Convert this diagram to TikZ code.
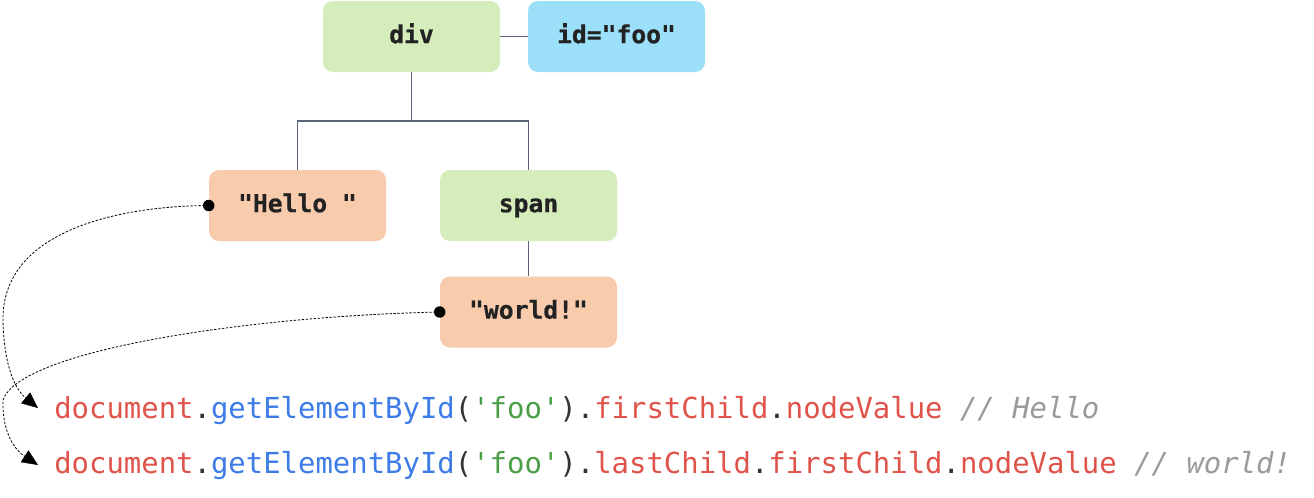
\documentclass[tikz,border=0pt]{standalone}
\usepackage{fontspec}
\setmonofont{DejaVu Sans Mono}
\newfontfamily\labelfont{DejaVu Sans Mono Bold}[FakeBold=0.6]
\usetikzlibrary{arrows.meta}
\definecolor{elemfill}{HTML}{D4EDBB}
\definecolor{attrfill}{HTML}{9CDFF9}
\definecolor{textfill}{HTML}{F8CBAD}
\definecolor{treeline}{HTML}{5B6478}
\definecolor{labelink}{HTML}{222222}
\definecolor{jsred}{HTML}{E0534A}
\definecolor{jsblue}{HTML}{3D7CE8}
\definecolor{jsgreen}{HTML}{4A9E45}
\definecolor{jspunct}{HTML}{333333}
\definecolor{jscomment}{HTML}{9A9A9A}
\tikzset{
  domnode/.style={rounded corners=7.5pt, minimum width=132.75pt, minimum height=53.25pt,
    inner sep=0pt, text height=10pt, text depth=0pt,
    font=\labelfont\fontsize{18.5}{20}\selectfont, text=labelink},
  elemnode/.style={domnode, fill=elemfill},
  attrnode/.style={domnode, fill=attrfill},
  textnode/.style={domnode, fill=textfill},
  treeedge/.style={draw=treeline, line width=0.9pt},
  codeline/.style={anchor=base west, inner sep=0pt, font=\ttfamily\fontsize{21.7}{24}\selectfont},
  lookup/.style={draw=black, line width=0.6pt, dash pattern=on 1.8pt off 1.2pt,
    -{Triangle[length=12pt,width=10.5pt,fill=black,line width=0.3pt]}},
}
\newcommand{\jsR}[1]{\textcolor{jsred}{#1}}
\newcommand{\jsB}[1]{\textcolor{jsblue}{#1}}
\newcommand{\jsG}[1]{\textcolor{jsgreen}{#1}}
\newcommand{\jsP}[1]{\textcolor{jspunct}{#1}}
\newcommand{\jsC}[1]{\textcolor{jscomment}{\itshape #1}}
\begin{document}
\begin{tikzpicture}[x=0.75pt,y=-0.75pt]
\useasboundingbox (0,0) rectangle (1314,497);

% DOM tree
\node[elemnode] (div) at (411.5,36.5) {div};
\node[attrnode] (id) at (616.5,36.5) {id="foo"};
\node[textnode] (hello) at (297.5,205.5) {"Hello "};
\node[elemnode] (span) at (528.5,205.5) {span};
\node[textnode] (world) at (528.5,312) {"world!"};

\coordinate (fork) at (411.5,121);
\draw[treeedge] (div.east) -- (id.west);
\draw[treeedge] (div.south) -- (fork);
\draw[treeedge] (fork) -| (hello.north);
\draw[treeedge] (fork) -| (span.north);
\draw[treeedge] (span.south) -- (world.north);

% JavaScript lookups
\node[codeline] (code1) at (54,418) {\jsR{document}\jsP{.}\jsB{getElementById}\jsP{(}\jsG{'foo'}\jsP{)}\jsP{.}\jsR{firstChild}\jsP{.}\jsR{nodeValue} \jsC{// Hello}};
\node[codeline] (code2) at (54,473) {\jsR{document}\jsP{.}\jsB{getElementById}\jsP{(}\jsG{'foo'}\jsP{)}\jsP{.}\jsR{lastChild}\jsP{.}\jsR{firstChild}\jsP{.}\jsR{nodeValue} \jsC{// world!}};

\coordinate (tip1) at (38,408);
\coordinate (tip2) at (38,465);

\draw[lookup] (hello.west) .. controls (120,206) and (2,230) .. (3,320)
  .. controls (4,368) and (16,390) .. (tip1);
\draw[lookup] (world.west) .. controls (250,316) and (20,350) .. (3,400)
  .. controls (2,428) and (12,448) .. (tip2);

\fill (hello.west) circle (4.3pt);
\fill (world.west) circle (4.3pt);
\end{tikzpicture}
\end{document}
